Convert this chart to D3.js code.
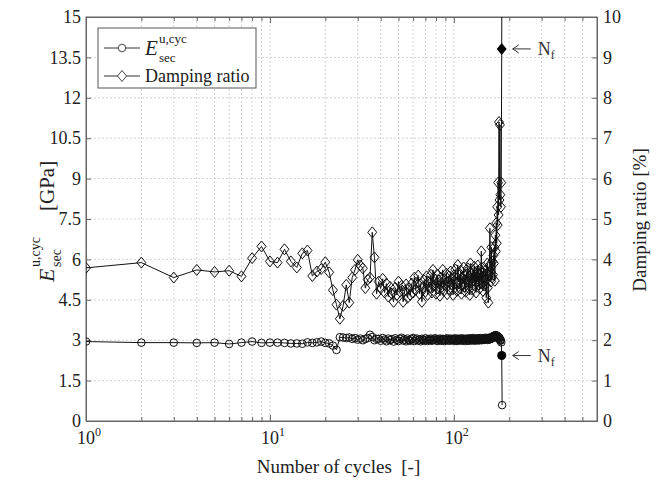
<!DOCTYPE html>
<html>
<head>
<meta charset="utf-8">
<script src="https://cdn.jsdelivr.net/npm/d3@7"></script>
<style>
  body { margin: 0; background: #fff; }
  svg { font-family: "Liberation Serif", "Times New Roman", serif; }
  .grid { stroke: #c8c8c8; stroke-width: 0.8; stroke-dasharray: 2,2; }
  .axis path, .axis line { stroke: #666; }
  .axis text { fill: #222; font-size: 18px; font-family: "Liberation Serif", serif; }
</style>
</head>
<body>
<div id="chart"></div>
<script>
"use strict";

// cycle numbers 1..183
var cycles = d3.range(1, 184);

// secant modulus E_sec^u,cyc [GPa]
var secantModulus = [
  2.95, 2.91, 2.91, 2.90, 2.91, 2.86, 2.91, 2.95, 2.90, 2.91,
  2.91, 2.90, 2.88, 2.88, 2.87, 2.92, 2.90, 2.92, 2.95, 2.90,
  2.88, 2.80, 2.64, 3.11, 3.10, 3.08, 3.10, 3.05, 3.08, 3.02,
  3.06, 3.00, 3.05, 3.08, 3.20, 3.12, 3.00, 3.05, 3.05, 2.98,
  3.08, 3.02, 2.96, 3.06, 3.00, 3.04, 2.95, 3.07, 3.01, 2.97,
  3.05, 3.09, 2.99, 3.03, 2.96, 3.06, 3.00, 2.98, 3.04, 3.08,
  2.97, 3.02, 3.06, 2.99, 3.03, 2.96, 3.05, 3.01, 2.98, 3.07,
  3.02, 2.97, 3.04, 3.00, 3.06, 2.98, 3.03, 3.01, 3.07, 2.99,
  3.04, 2.97, 3.02, 3.06, 3.00, 2.98, 3.05, 3.03, 2.97, 3.04,
  3.01, 3.07, 2.99, 3.03, 2.98, 3.06, 3.02, 3.00, 3.05, 2.98,
  3.03, 3.07, 3.00, 2.97, 3.04, 3.02, 3.06, 2.99, 3.03, 3.00,
  3.07, 2.98, 3.04, 3.01, 3.05, 2.97, 3.03, 3.06, 3.00, 3.04,
  2.98, 3.07, 3.02, 3.05, 2.99, 3.03, 3.08, 3.01, 3.04, 2.98,
  3.06, 3.02, 3.05, 3.00, 3.07, 3.03, 2.99, 3.05, 3.08, 3.02,
  3.04, 3.00, 3.06, 3.03, 3.07, 3.01, 3.05, 3.09, 3.02, 3.06,
  3.04, 3.08, 3.01, 3.05, 3.09, 3.03, 3.07, 3.04, 3.10, 3.06,
  3.12, 3.08, 3.14, 3.10, 3.16, 3.12, 3.18, 3.14, 3.19, 3.13,
  3.17, 3.10, 3.15, 3.08, 3.12, 3.05, 3.09, 3.02, 2.98, 3.00,
  2.92, 2.43, 0.59
];

// damping ratio [%]
var dampingRatio = [
  3.79, 3.92, 3.55, 3.74, 3.69, 3.72, 3.58, 4.03, 4.32, 3.95,
  3.92, 4.25, 3.95, 3.80, 4.15, 4.22, 3.59, 3.70, 3.76, 3.93,
  3.68, 3.24, 2.88, 2.53, 2.85, 3.37, 2.93, 3.55, 3.74, 3.99,
  3.85, 3.78, 3.29, 3.50, 3.55, 4.67, 4.05, 3.15, 3.45, 3.28,
  3.52, 3.18, 3.40, 3.08, 3.32, 3.15, 2.95, 3.30, 3.12, 3.45,
  3.20, 3.35, 2.95, 3.22, 3.38, 3.05, 3.28, 3.12, 3.40, 3.18,
  3.55, 3.25, 3.42, 3.60, 3.15, 3.38, 2.95, 3.30, 3.48, 3.20,
  3.58, 3.12, 3.45, 3.30, 3.62, 3.18, 3.74, 3.35, 3.50, 3.15,
  3.62, 3.28, 3.48, 3.10, 3.55, 3.32, 3.74, 3.22, 3.50, 3.36,
  3.65, 3.14, 3.45, 3.58, 3.25, 3.70, 3.38, 3.52, 3.12, 3.60,
  3.30, 3.75, 3.40, 3.22, 3.86, 3.45, 3.60, 3.28, 3.72, 3.15,
  3.55, 3.40, 3.80, 3.32, 3.62, 3.20, 3.68, 3.45, 3.78, 3.30,
  3.58, 3.12, 3.90, 3.42, 3.65, 3.25, 3.74, 3.48, 3.82, 3.35,
  3.60, 3.18, 3.70, 3.45, 3.85, 3.38, 3.62, 3.28, 3.76, 3.50,
  4.20, 3.40, 3.68, 3.22, 3.80, 3.55, 3.35, 3.72, 3.48, 3.05,
  3.65, 3.90, 3.30, 2.93, 3.60, 3.85, 4.77, 3.70, 3.45, 4.30,
  3.55, 3.95, 3.62, 4.10, 3.90, 4.30, 3.47, 4.60, 4.20, 4.90,
  4.40, 5.30, 4.85, 5.90, 5.10, 7.40, 5.47, 7.33, 5.60, 5.30,
  5.90, 9.21, 14.0
];

// cycle at failure (N_f)
var failureCycle = 182;

// tick values
var leftTicks = [0, 1.5, 3, 4.5, 6, 7.5, 9, 10.5, 12, 13.5, 15];
var rightTicks = [0, 1, 2, 3, 4, 5, 6, 7, 8, 9, 10];
var decadeTicks = [1, 10, 100];
var decadeExponents = ["0", "1", "2"];
var minorTicks = [2, 3, 4, 5, 6, 7, 8, 9, 20, 30, 40, 50, 60, 70, 80, 90, 200, 300, 400, 500];

function drawChart(w, h) {
  var left = 86, right = 597, top = 17, bottom = 421;

  //Scale functions
  var xScale = d3.scaleLog().domain([1, 600]).range([left, right]);
  var yLeft = d3.scaleLinear().domain([0, 15]).range([bottom, top]);
  var yRight = d3.scaleLinear().domain([0, 10]).range([bottom, top]);

  var svg = d3.select("#chart")
    .append("svg")
    .attr("width", w)
    .attr("height", h);

  svg.append("defs").append("clipPath")
    .attr("id", "plotClip")
    .append("rect")
    .attr("x", left).attr("y", top)
    .attr("width", right - left).attr("height", bottom - top);

  //Grid
  var grid = svg.append("g");
  grid.selectAll("line.v")
    .data(minorTicks.concat([10, 100]))
    .enter().append("line")
    .attr("class", "grid v")
    .attr("x1", function (d) { return xScale(d); })
    .attr("x2", function (d) { return xScale(d); })
    .attr("y1", top).attr("y2", bottom);
  grid.selectAll("line.h")
    .data(leftTicks.slice(1, -1))
    .enter().append("line")
    .attr("class", "grid h")
    .attr("x1", left).attr("x2", right)
    .attr("y1", function (d) { return yLeft(d); })
    .attr("y2", function (d) { return yLeft(d); });

  //Axes
  svg.append("g")
    .attr("class", "axis")
    .attr("transform", "translate(" + left + ",0)")
    .call(d3.axisLeft(yLeft).tickValues(leftTicks).tickSize(-5).tickPadding(5)
      .tickFormat(d3.format("~g")));

  svg.append("g")
    .attr("class", "axis")
    .attr("transform", "translate(" + right + ",0)")
    .call(d3.axisRight(yRight).tickValues(rightTicks).tickSize(-5).tickPadding(6)
      .tickFormat(d3.format("~g")));

  svg.append("g")
    .attr("class", "axis")
    .attr("transform", "translate(0," + bottom + ")")
    .call(d3.axisBottom(xScale).tickValues(minorTicks).tickSize(-4).tickFormat(""));
  svg.append("g")
    .attr("class", "axis")
    .attr("transform", "translate(0," + bottom + ")")
    .call(d3.axisBottom(xScale).tickValues(decadeTicks).tickSize(-6).tickFormat(""));
  svg.append("g")
    .attr("class", "axis")
    .attr("transform", "translate(0," + top + ")")
    .call(d3.axisTop(xScale).tickValues(minorTicks).tickSize(-4).tickFormat(""));
  svg.append("g")
    .attr("class", "axis")
    .attr("transform", "translate(0," + top + ")")
    .call(d3.axisTop(xScale).tickValues(decadeTicks).tickSize(-6).tickFormat(""));

  //Decade labels 10^n
  var dl = svg.selectAll("text.decade")
    .data(decadeTicks)
    .enter().append("text")
    .attr("class", "decade")
    .attr("x", function (d) { return xScale(d) + 3; })
    .attr("y", 444)
    .attr("text-anchor", "middle")
    .attr("fill", "#222")
    .style("font-size", "18px");
  dl.append("tspan").text("10");
  dl.append("tspan")
    .attr("dy", -8)
    .style("font-size", "12px")
    .text(function (d, i) { return decadeExponents[i]; });

  //Frame
  svg.append("rect")
    .attr("x", left).attr("y", top)
    .attr("width", right - left).attr("height", bottom - top)
    .attr("fill", "none").attr("stroke", "#666").attr("stroke-width", 1);

  var modData = cycles.map(function (c, i) { return { c: c, v: secantModulus[i] }; });
  var dampData = cycles.map(function (c, i) { return { c: c, v: dampingRatio[i] }; });

  var plot = svg.append("g").attr("clip-path", "url(#plotClip)");
  var diamond = "M0,-5.5L4.5,0L0,5.5L-4.5,0Z";

  //Damping ratio series
  plot.append("path")
    .datum(dampData)
    .attr("fill", "none")
    .attr("stroke", "#111")
    .attr("stroke-width", 1)
    .attr("d", d3.line()
      .x(function (d) { return xScale(d.c); })
      .y(function (d) { return yRight(d.v); }));
  plot.selectAll("path.dia")
    .data(dampData.filter(function (d) { return d.c !== failureCycle; }))
    .enter().append("path")
    .attr("class", "dia")
    .attr("d", diamond)
    .attr("transform", function (d) { return "translate(" + xScale(d.c) + "," + yRight(d.v) + ")"; })
    .attr("fill", "none")
    .attr("stroke", "#111")
    .attr("stroke-width", 1);

  //Secant modulus series
  plot.append("path")
    .datum(modData)
    .attr("fill", "none")
    .attr("stroke", "#111")
    .attr("stroke-width", 1)
    .attr("d", d3.line()
      .x(function (d) { return xScale(d.c); })
      .y(function (d) { return yLeft(d.v); }));
  plot.selectAll("circle.mod")
    .data(modData.filter(function (d) { return d.c !== failureCycle; }))
    .enter().append("circle")
    .attr("class", "mod")
    .attr("cx", function (d) { return xScale(d.c); })
    .attr("cy", function (d) { return yLeft(d.v); })
    .attr("r", 3.8)
    .attr("fill", "none")
    .attr("stroke", "#111")
    .attr("stroke-width", 1);

  //Failure markers
  var fi = cycles.indexOf(failureCycle);
  var fx = xScale(failureCycle);
  var fyD = yRight(dampingRatio[fi]);
  var fyE = yLeft(secantModulus[fi]);
  svg.append("path")
    .attr("d", "M0,-6L5,0L0,6L-5,0Z")
    .attr("transform", "translate(" + fx + "," + fyD + ")")
    .attr("fill", "#000");
  svg.append("circle")
    .attr("cx", fx).attr("cy", fyE).attr("r", 4.5)
    .attr("fill", "#000");

  //N_f annotations
  [fyD, fyE].forEach(function (y) {
    var x0 = fx + 11;
    svg.append("path")
      .attr("d", "M" + (x0 + 6) + "," + (y - 4) + "L" + x0 + "," + y + "L" + (x0 + 6) + "," + (y + 4) +
        "M" + x0 + "," + y + "L" + (x0 + 18) + "," + y)
      .attr("fill", "none")
      .attr("stroke", "#333")
      .attr("stroke-width", 1);
    var t = svg.append("text")
      .attr("x", x0 + 25)
      .attr("y", y + 6)
      .attr("fill", "#333")
      .style("font-size", "18px");
    t.append("tspan").text("N");
    t.append("tspan").attr("dy", 4).style("font-size", "12px").text("f");
  });

  //Legend
  var lg = svg.append("g");
  lg.append("rect")
    .attr("x", 98).attr("y", 28)
    .attr("width", 158).attr("height", 60)
    .attr("fill", "#fff")
    .attr("stroke", "#555")
    .attr("stroke-width", 1);
  lg.append("line")
    .attr("x1", 104).attr("x2", 140).attr("y1", 48).attr("y2", 48)
    .attr("stroke", "#333");
  lg.append("circle")
    .attr("cx", 122).attr("cy", 48).attr("r", 3.8)
    .attr("fill", "#fff").attr("stroke", "#333").attr("stroke-width", 0.9);
  lg.append("text")
    .attr("x", 145).attr("y", 55)
    .style("font-size", "21px").style("font-style", "italic")
    .attr("fill", "#222").text("E");
  lg.append("text")
    .attr("x", 159).attr("y", 43)
    .style("font-size", "13px").attr("fill", "#222").text("u,cyc");
  lg.append("text")
    .attr("x", 159).attr("y", 62)
    .style("font-size", "13px").attr("fill", "#222").text("sec");
  lg.append("line")
    .attr("x1", 104).attr("x2", 140).attr("y1", 76).attr("y2", 76)
    .attr("stroke", "#333");
  lg.append("path")
    .attr("d", diamond)
    .attr("transform", "translate(122,76)")
    .attr("fill", "#fff").attr("stroke", "#333").attr("stroke-width", 0.9);
  lg.append("text")
    .attr("x", 145).attr("y", 82)
    .style("font-size", "18px")
    .attr("fill", "#222").text("Damping ratio");

  //Axis titles
  svg.append("text")
    .attr("x", (left + right) / 2 - 3)
    .attr("y", 473)
    .attr("text-anchor", "middle")
    .attr("fill", "#222")
    .style("font-size", "19px")
    .style("white-space", "pre")
    .text("Number of cycles  [-]");

  svg.append("text")
    .attr("transform", "translate(646,220) rotate(-90)")
    .attr("text-anchor", "middle")
    .attr("fill", "#222")
    .style("font-size", "19px")
    .text("Damping ratio [%]");

  var yl = svg.append("g").attr("transform", "translate(47,220) rotate(-90)");
  yl.append("text")
    .attr("x", -62).attr("y", 7)
    .style("font-size", "22px").style("font-style", "italic")
    .attr("fill", "#222").text("E");
  yl.append("text")
    .attr("x", -47).attr("y", -7)
    .style("font-size", "14px").attr("fill", "#222").text("u,cyc");
  yl.append("text")
    .attr("x", -47).attr("y", 14)
    .style("font-size", "14px").attr("fill", "#222").text("sec");
  yl.append("text")
    .attr("x", 9).attr("y", 7)
    .style("font-size", "21px").attr("fill", "#222").text("[GPa]");
}

function init() {
  drawChart(662, 480);
}

window.onload = init;
</script>
</body>
</html>
